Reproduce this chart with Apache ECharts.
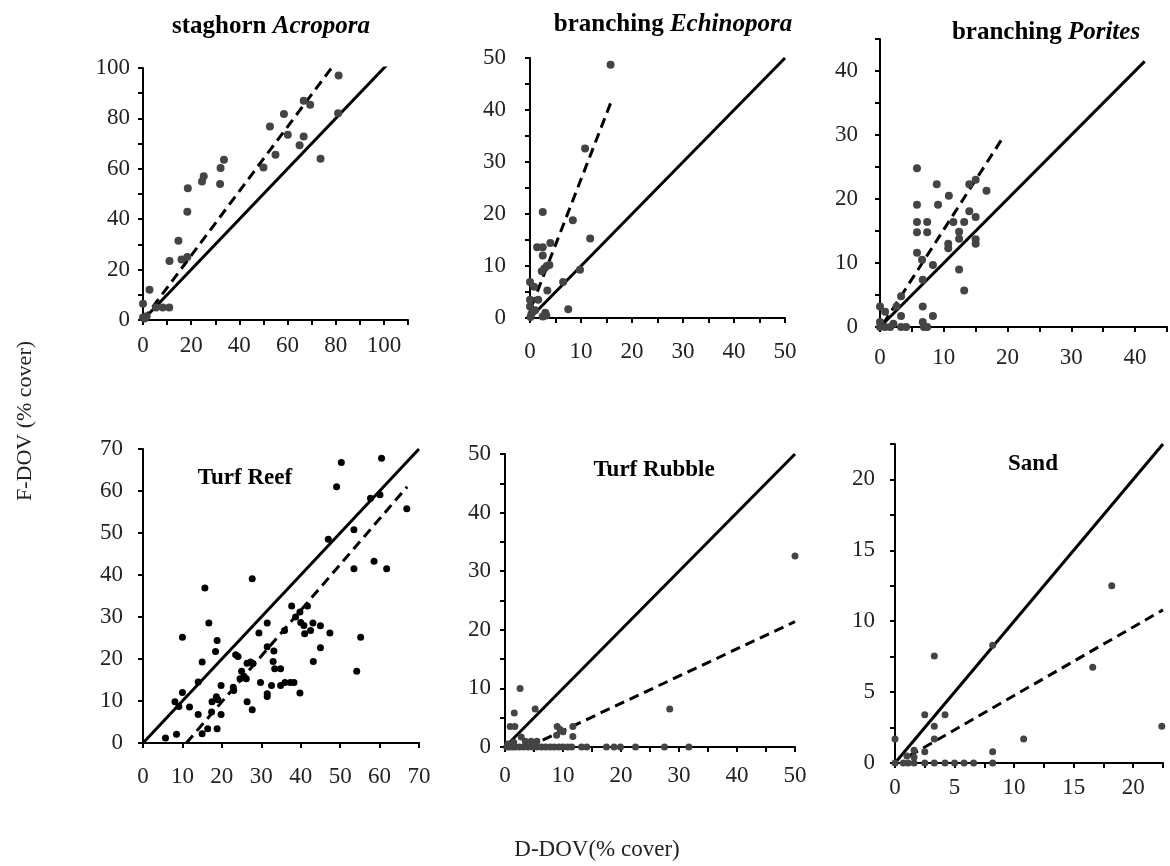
<!DOCTYPE html>
<html>
<head>
<meta charset="utf-8">
<script src="https://cdn.jsdelivr.net/npm/echarts@6/dist/echarts.min.js"></script>
<style>
  html, body { margin: 0; padding: 0; background: #fff; }
  #chart { width: 1170px; height: 866px; }
</style>
</head>
<body>
<div id="chart"></div>
<script>
// panel values (D-DOV on x, F-DOV on y)
var acroporaPts = [[0,1],[0,6.4],[2.7,12],[0.6,0.6],[1.5,1.5],[5.4,5],[8.2,5],[10.9,5],[11,23.4],[14.7,31.4],[16,24],[18.4,25],[18.4,43],[18.6,52.3],[24.5,55],[25.2,57],[32.2,60.3],[32,54],[33.6,63.6],[50,60.5],[52.7,76.8],[55,65.6],[58.5,81.7],[60.1,73.5],[65,69.3],[66.7,72.8],[66.7,87],[69.4,85.4],[73.7,64],[81,82],[81.2,97]];
var acroporaFit = [[0,0],[79,101]];
var acroporaOne = [[0,0],[102,102]];

var echinoporaPts = [[15.8,48.7],[10.8,32.6],[8.4,18.8],[11.8,15.3],[2.5,20.4],[1.4,13.6],[2.5,13.6],[4,14.4],[2.5,12],[2.3,9],[2.8,9.5],[3.3,10],[3.8,10.2],[9.8,9.3],[6.5,6.9],[0,6.9],[0.8,6],[3.4,5.3],[7.5,1.7],[1.6,3.5],[0,3.5],[0,2.2],[3,1],[3.2,0.5],[2.5,0.3],[0.3,0.8],[0.1,0.2],[1,1.5]];
var echinoporaFit = [[0.3,2.2],[15.8,41.3]];
var echinoporaOne = [[0,0],[50,50]];

var poritesPts = [[5.8,24.8],[5.8,19.1],[5.8,16.4],[5.8,14.8],[7.4,16.4],[7.4,14.8],[5.8,11.6],[6.6,10.5],[8.3,9.7],[8.9,22.3],[9.1,19.1],[10.8,20.5],[10.7,13],[10.7,12.3],[11.5,16.4],[12.4,14.9],[12.4,13.8],[12.4,9],[13.2,5.7],[13.2,16.4],[14,18.1],[14,22.3],[15,23],[15,17.2],[15,13.7],[15,13],[16.7,21.3],[6.7,7.4],[6.7,3.2],[6.7,0.8],[7.4,0],[8.3,1.7],[3.3,4.8],[2.6,3.2],[3.3,1.7],[3.3,0],[4.1,0],[0,3.2],[0.8,2.4],[0,0.8],[0,0],[0.8,0],[1.6,0],[2.1,0.5],[6.9,0]];
var poritesFit = [[0.5,0.5],[19.4,29.8]];
var poritesOne = [[0,0],[41.5,41.5]];

var reefPts = [[5.7,1.2],[8.5,2.1],[8.1,9.8],[9.1,8.7],[10,12],[10,25.2],[11.8,8.6],[14,6.8],[14,14.5],[15,19.3],[15.7,36.9],[15,2.2],[16.4,3.4],[16.7,28.6],[17.4,7.4],[17.5,9.8],[18.4,21.8],[18.8,24.4],[18.8,3.4],[18.6,11],[19,10.3],[19.8,13.7],[19.8,6.8],[22.9,13.3],[23,12.5],[23.5,21],[24.1,20.6],[24.6,15.3],[25,17.1],[25.6,15.9],[26.2,15.3],[26.4,9.8],[26.4,19],[27.3,19.3],[27.7,7.9],[27.9,18.9],[27.7,39.1],[29.4,26.2],[29.8,14.4],[31.5,28.6],[31.5,22.9],[31.5,11.7],[31.5,11.1],[32.6,13.7],[33.2,21.9],[33,19.4],[33.4,17.7],[34.9,17.7],[34.9,13.7],[35.9,26.8],[36,14.4],[37.4,14.4],[38.3,14.4],[37.7,32.6],[38.7,30],[39.8,11.9],[39.8,31.2],[40,28.7],[40.8,28],[41,26],[41.7,32.6],[42.5,26.8],[43.1,28.6],[43.2,19.4],[45,27.9],[45,22.7],[47.4,26.2],[47,48.5],[49.1,61],[50.3,66.8],[53.5,50.8],[53.5,41.5],[54.2,17.1],[55.2,25.2],[57.7,58.3],[58.6,43.3],[60.1,59.1],[60.5,67.8],[61.8,41.5],[66.9,55.8]];
var reefFit = [[11,0],[67,61]];
var reefOne = [[0,0],[70,70]];

var rubblePts = [[0.3,0],[0.8,0],[1.3,0],[1.8,0],[2.5,0],[3.2,0],[4,0],[4.8,0],[5.5,0],[6.3,0],[7,0],[7.8,0],[8.5,0],[9.3,0],[10,0],[10.8,0],[11.5,0],[13.2,0],[14.1,0],[17.5,0],[18.8,0],[19.9,0],[22.5,0],[27.5,0],[31.7,0],[0.9,3.5],[1.7,3.5],[1.6,5.8],[2.6,10],[5.2,6.5],[2.8,1.7],[3.5,1],[4.5,1],[5.5,1],[9,3.5],[11.7,3.5],[10,2.6],[11.7,1.8],[8.9,2],[9.5,3],[28.4,6.5],[50,32.6],[0.5,0.5],[1.5,0.8]];
var rubbleFit = [[4,0],[50,21.4]];
var rubbleOne = [[0,0],[50,50]];

var sandPts = [[0,0],[0.7,0],[1.1,0],[1.6,0],[2.5,0],[3.3,0],[4.2,0],[5,0],[5.8,0],[6.6,0],[8.2,0],[1.6,0.9],[1,0.5],[1.6,0.4],[2.5,0.8],[0,1.7],[3.3,1.7],[3.3,2.6],[2.5,3.4],[4.2,3.4],[3.3,7.55],[8.2,8.3],[8.2,0.8],[10.8,1.7],[16.6,6.75],[18.2,12.5],[22.4,2.6]];
var sandFit = [[1.2,0.5],[22.5,10.8]];
var sandOne = [[0,0],[22.5,22.5]];

// tick labels that are printed on each axis
var acroporaXLabels = [0,20,40,60,80,100], acroporaYLabels = [0,20,40,60,80,100];
var echinoporaXLabels = [0,10,20,30,40,50], echinoporaYLabels = [0,10,20,30,40,50];
var poritesXLabels = [0,10,20,30,40], poritesYLabels = [0,10,20,30,40];
var reefXLabels = [0,10,20,30,40,50,60,70], reefYLabels = [0,10,20,30,40,50,60,70];
var rubbleXLabels = [0,10,20,30,40,50], rubbleYLabels = [0,10,20,30,40,50];
var sandXLabels = [0,5,10,15,20], sandYLabels = [0,5,10,15,20];

window.onload = function(){
    var dom = document.getElementById("chart");
    var myChart = echarts.init(dom);
    var serif = "'Liberation Serif', 'Times New Roman', serif";

    var panels = [
        {grid: {left: 143, top: 68, width: 265, height: 252}, xm: 14, ym: 13, xMax: 110, yMax: 100, xStep: 10, yStep: 10, xl: acroporaXLabels, yl: acroporaYLabels, pts: acroporaPts, fit: acroporaFit, one: acroporaOne, color: '#444', size: 8},
        {grid: {left: 530, top: 58, width: 255, height: 260}, xm: 22, ym: 24, xMax: 50, yMax: 50, xStep: 5, yStep: 5, xl: echinoporaXLabels, yl: echinoporaYLabels, pts: echinoporaPts, fit: echinoporaFit, one: echinoporaOne, color: '#444', size: 8},
        {grid: {left: 880, top: 39, width: 290, height: 288}, xm: 19, ym: 22, xMax: 45, yMax: 45, xStep: 5, yStep: 5, xl: poritesXLabels, yl: poritesYLabels, pts: poritesPts, fit: poritesFit, one: poritesOne, color: '#444', size: 8},
        {grid: {left: 143, top: 449, width: 276, height: 294}, xm: 22, ym: 20, xMax: 70, yMax: 70, xStep: 10, yStep: 10, xl: reefXLabels, yl: reefYLabels, pts: reefPts, fit: reefFit, one: reefOne, color: '#000', size: 7},
        {grid: {left: 505, top: 454, width: 290, height: 293}, xm: 17, ym: 14, xMax: 50, yMax: 50, xStep: 5, yStep: 5, xl: rubbleXLabels, yl: rubbleYLabels, pts: rubblePts, fit: rubbleFit, one: rubbleOne, color: '#444', size: 7},
        {grid: {left: 895, top: 444, width: 268, height: 319}, xm: 13, ym: 20, xMax: 22.5, yMax: 22.5, xStep: 2.5, yStep: 2.5, xl: sandXLabels, yl: sandYLabels, pts: sandPts, fit: sandFit, one: sandOne, color: '#444', size: 7}
    ];

    function labelFmt(list){
        return function (value) {
            for (var k = 0; k < list.length; k++) {
                if (Math.abs(list[k] - value) < 1e-6) return String(list[k]);
            }
            return '';
        };
    }

    var grids = [], xAxes = [], yAxes = [], series = [];
    panels.forEach(function (p, i) {
        grids.push(p.grid);
        var axisCommon = {
            type: 'value',
            min: 0,
            gridIndex: i,
            splitLine: {show: false},
            axisLine: {show: true, onZero: false, lineStyle: {color: '#000', width: 2}},
            axisTick: {show: true, length: 5, lineStyle: {color: '#000', width: 2}}
        };
        xAxes.push(Object.assign({}, axisCommon, {
            max: p.xMax, interval: p.xStep,
            axisLabel: {margin: p.xm, fontFamily: serif, fontSize: 23, color: '#222', formatter: labelFmt(p.xl)}
        }));
        yAxes.push(Object.assign({}, axisCommon, {
            max: p.yMax, interval: p.yStep,
            axisLabel: {margin: p.ym, fontFamily: serif, fontSize: 23, color: '#222', formatter: labelFmt(p.yl)}
        }));
        series.push({
            type: 'scatter', xAxisIndex: i, yAxisIndex: i,
            symbolSize: p.size, itemStyle: {color: p.color, opacity: 1},
            data: p.pts, z: 3
        });
        series.push({
            type: 'line', xAxisIndex: i, yAxisIndex: i,
            symbol: 'none', lineStyle: {color: '#000', width: 3},
            data: p.one, z: 2
        });
        series.push({
            type: 'line', xAxisIndex: i, yAxisIndex: i,
            symbol: 'none', lineStyle: {color: '#000', width: 3, type: [10, 6]},
            data: p.fit, z: 2
        });
    });

    function title(x, y, text, size) {
        return {
            type: 'text', x: x, y: y, z: 10,
            style: {
                text: text, fontSize: size, fontFamily: serif, fontWeight: 'bold', fill: '#000',
                align: 'center', verticalAlign: 'middle',
                rich: {i: {fontFamily: serif, fontWeight: 'bold', fontStyle: 'italic', fontSize: size, fill: '#000'}}
            }
        };
    }

    option = {
        animation: false,
        backgroundColor: '#fff',
        grid: grids,
        xAxis: xAxes,
        yAxis: yAxes,
        series: series,
        graphic: [
            title(271, 27, 'staghorn {i|Acropora}', 25),
            title(673, 25, 'branching {i|Echinopora}', 25),
            title(1046, 33, 'branching {i|Porites}', 25),
            title(245, 478, 'Turf Reef', 23),
            title(654, 470, 'Turf Rubble', 23),
            title(1033, 464, 'Sand', 23),
            {
                type: 'text', x: 25, y: 421, rotation: Math.PI / 2,
                style: {text: 'F-DOV (% cover)', fontFamily: serif, fontSize: 22, fill: '#222', align: 'center', verticalAlign: 'middle'}
            },
            {
                type: 'text', x: 597, y: 850,
                style: {text: 'D-DOV(% cover)', fontFamily: serif, fontSize: 23, fill: '#222', align: 'center', verticalAlign: 'middle'}
            }
        ]
    };
    if (option && typeof option === "object") {
        myChart.setOption(option, true);
    }
}
</script>
</body>
</html>
